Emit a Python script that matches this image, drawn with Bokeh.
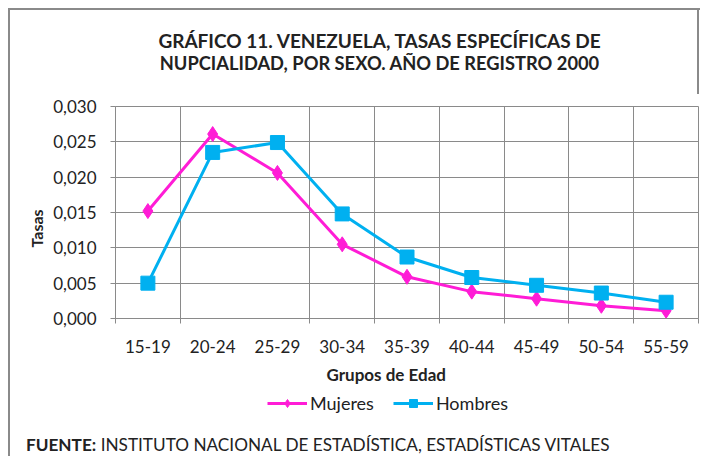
from bokeh.plotting import figure
from bokeh.models import FixedTicker, Legend, LegendItem, Range1d, Title, Div
from bokeh.layouts import column
from bokeh.embed import file_html
from bokeh.resources import INLINE

# ---- data ----
categories = ["15-19", "20-24", "25-29", "30-34", "35-39", "40-44", "45-49", "50-54", "55-59"]
mujeres = [0.0152, 0.0261, 0.0206, 0.0105, 0.0059, 0.0038, 0.0028, 0.0018, 0.0011]
hombres = [0.0050, 0.0235, 0.0249, 0.0148, 0.0087, 0.0058, 0.0047, 0.0036, 0.0023]
y_ticks = [0.000, 0.005, 0.010, 0.015, 0.020, 0.025, 0.030]
y_tick_labels = ["0,000", "0,005", "0,010", "0,015", "0,020", "0,025", "0,030"]
series_names = ["Mujeres", "Hombres"]

title_1 = "GRÁFICO 11. VENEZUELA, TASAS ESPECÍFICAS DE"
title_2 = "NUPCIALIDAD, POR SEXO. AÑO DE REGISTRO 2000"
x_title = "Grupos de Edad"
y_title = "Tasas"
source_bold = "FUENTE:"
source_text = "INSTITUTO NACIONAL DE ESTADÍSTICA, ESTADÍSTICAS VITALES"

FONT = "Lato"
MAG = "#FF1CD6"
BLUE = "#00B0F0"
GRID = "#8a8a8a"
TXT = "#222222"
BORDER = "2px solid #8a8a8a"

n = len(categories)
xs = [i + 0.5 for i in range(n)]
bounds = [b for b in range(n + 1) if b != 2]

# ---------------- main chart ----------------
p = figure(frame_width=583, frame_height=212,
           x_range=Range1d(0, n), y_range=Range1d(0, 0.030),
           output_backend="svg", toolbar_location=None,
           min_border_left=105, min_border_right=2,
           min_border_top=12, min_border_bottom=72)
p.background_fill_color = "white"
p.border_fill_color = "white"
p.outline_line_color = GRID

p.xaxis.ticker = FixedTicker(ticks=xs, minor_ticks=bounds)
p.xaxis.major_label_overrides = {xv: c for xv, c in zip(xs, categories)}
p.xaxis.major_tick_line_color = None
p.xaxis.major_tick_out = 5
p.xaxis.major_tick_in = 0
p.xaxis.minor_tick_line_color = GRID
p.xaxis.minor_tick_out = 5
p.xaxis.minor_tick_in = 0
p.xaxis.axis_line_color = GRID
p.xaxis.major_label_standoff = 16
p.xaxis.major_label_text_font = FONT
p.xaxis.major_label_text_font_size = "17px"
p.xaxis.major_label_text_color = TXT

p.yaxis.ticker = FixedTicker(ticks=y_ticks, minor_ticks=[])
p.yaxis.major_label_overrides = {t: l for t, l in zip(y_ticks, y_tick_labels)}
p.yaxis.major_tick_line_color = GRID
p.yaxis.major_tick_out = 5
p.yaxis.major_tick_in = 0
p.yaxis.minor_tick_line_color = None
p.yaxis.axis_line_color = GRID
p.yaxis.major_label_standoff = 14
p.yaxis.major_label_text_font = FONT
p.yaxis.major_label_text_font_size = "17px"
p.yaxis.major_label_text_color = TXT

p.xgrid.grid_line_color = None
p.xgrid.minor_grid_line_color = GRID
p.ygrid.grid_line_color = GRID

p.line(xs, mujeres, line_color=MAG, line_width=3)
p.scatter(xs, mujeres, marker="diamond", size=15, fill_color=MAG, line_color=MAG)
p.line(xs, hombres, line_color=BLUE, line_width=3)
p.scatter(xs, hombres, marker="square", size=14, fill_color=BLUE, line_color=BLUE)

p.add_layout(Title(text=x_title, align="left", offset=211, standoff=12,
                   text_font=FONT, text_font_style="bold", text_font_size="17px",
                   text_color=TXT), "below")
p.add_layout(Title(text=y_title, align="left", offset=71, standoff=9,
                   text_font=FONT, text_font_style="bold", text_font_size="16px",
                   text_color=TXT), "left")

# ---------------- legend strip ----------------
lg = figure(width=690, height=30, x_range=Range1d(-20, -19), y_range=Range1d(0, 1),
            output_backend="svg", toolbar_location=None,
            min_border=0, outline_line_color=None)
lg.axis.visible = False
lg.grid.visible = False
lg.border_fill_color = "white"
lm = lg.line(xs, mujeres, line_color=MAG, line_width=3)
sm = lg.scatter(xs, mujeres, marker="diamond", size=15, fill_color=MAG, line_color=MAG)
lh = lg.line(xs, hombres, line_color=BLUE, line_width=3)
sh = lg.scatter(xs, hombres, marker="square", size=13, fill_color=BLUE, line_color=BLUE)
legend = Legend(items=[LegendItem(label=series_names[0], renderers=[lm, sm]),
                       LegendItem(label=series_names[1], renderers=[lh, sh])],
                orientation="horizontal", location=(152, 6),
                padding=0, margin=0, spacing=19, label_standoff=3,
                glyph_width=40, glyph_height=20, label_height=20,
                border_line_color=None, background_fill_alpha=0,
                label_text_font=FONT, label_text_font_size="18px", label_text_color=TXT)
lg.add_layout(legend, "center")

# ---------------- title and source ----------------
head = Div(text=(f'<div style="box-sizing:border-box;width:689px;height:84px;'
                 f'padding:20px 0 0 52px;border-right:{BORDER};text-align:center;'
                 f'font-family:{FONT};font-weight:bold;line-height:22px;color:{TXT};">'
                 f'<div style="font-size:19px;white-space:nowrap;">{title_1}</div>'
                 f'<div style="font-size:18.3px;white-space:nowrap;">{title_2}</div></div>'),
           width=690, height=84, margin=0)

foot = Div(text=(f'<div style="padding-top:15px;padding-left:16px;white-space:nowrap;'
                 f'font-family:{FONT};font-size:17.2px;line-height:20px;color:{TXT};">'
                 f'<b>{source_bold}</b> {source_text}</div>'),
           width=690, height=36, margin=0)

page = column(head, p, lg, foot, spacing=0,
              styles={"margin-left": "8px", "margin-top": "8px",
                      "border-left": BORDER, "border-top": BORDER,
                      "background": "white"})

open("out.html", "w").write(file_html(page, INLINE))
